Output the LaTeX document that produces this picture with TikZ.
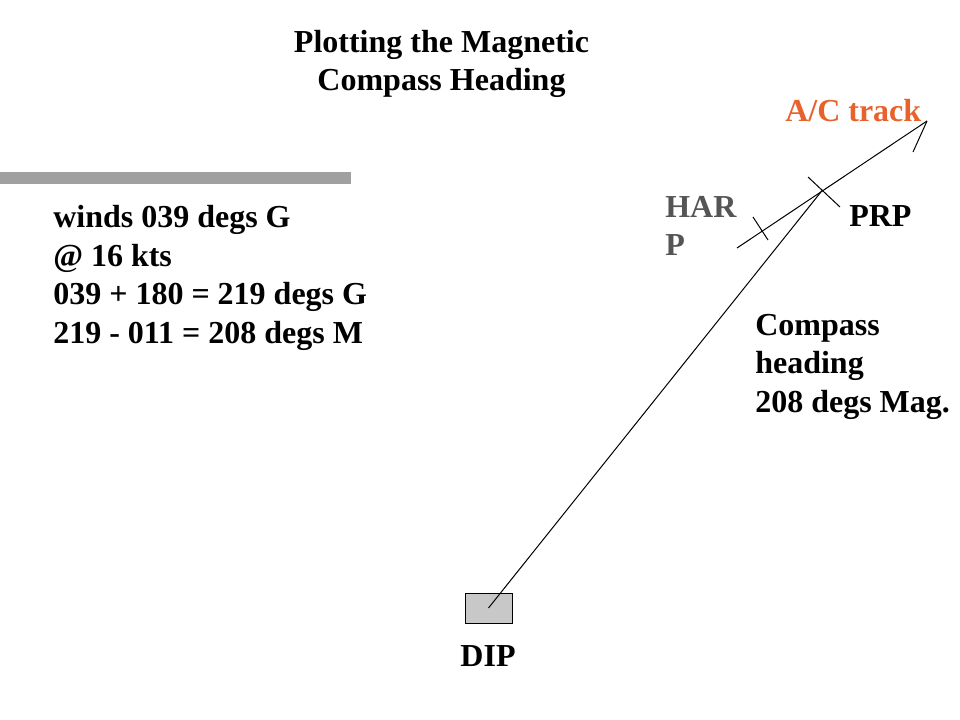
\documentclass[tikz,border=0pt]{standalone}
\usepackage{fontspec}
\setmainfont{Liberation Serif}
\definecolor{trackorange}{RGB}{232,98,44}
\definecolor{harpgray}{RGB}{85,85,85}
\definecolor{bargray}{RGB}{160,160,160}
\definecolor{boxgray}{RGB}{200,200,200}
\begin{document}
\begin{tikzpicture}[x=0.75pt,y=-0.75pt,
  lbl/.style={font=\bfseries\fontsize{24}{28.8}\selectfont, inner sep=0pt, align=left},
  thin line/.style={line width=0.75pt, black}]
\useasboundingbox (0,0) rectangle (960,720);
% title (anchor at baseline of last line)
\node[lbl, align=center, anchor=base] (title) at (441.5,90.5) {Plotting the Magnetic\\Compass Heading};
% bar
\fill[bargray] (0,172) rectangle (351,184);
% left text
\node[lbl, anchor=base west] (winds) at (53,343) {winds 039 degs G\\@ 16 kts\\039 + 180 = 219 degs G\\219 - 011 = 208 degs M};
% DIP box
\node[draw=black, line width=0.75pt, fill=boxgray, minimum width=35.25pt, minimum height=22.5pt, inner sep=0pt] (dip) at (488.5,608) {};
\node[lbl, anchor=base] (diplbl) at (488,666) {DIP};
% coordinates
\coordinate (prp) at (822.5,190);
\coordinate (trackstart) at (737,248);
\coordinate (tracktip) at (927,121);
\coordinate (barb) at (913,152);
\coordinate (prpA) at (808,177);
\coordinate (prpB) at (840,207);
\coordinate (harpA) at (753,217);
\coordinate (harpB) at (768,240);
% lines
\draw[thin line] (dip.center) -- (prp);
\draw[thin line] (trackstart) -- (tracktip);
\draw[thin line] (tracktip) -- (barb);
\draw[thin line] (prpA) -- (prpB);
\draw[thin line] (harpA) -- (harpB);
% labels
\node[lbl, anchor=base west, text=trackorange] (track) at (785,122) {A/C track};
\node[lbl, anchor=base west, text=harpgray] (harp) at (665,256) {HAR\\P};
\node[lbl, anchor=base west] (prplbl) at (849,227) {PRP};
\node[lbl, anchor=base west] (compass) at (755,412) {Compass\\heading\\208 degs Mag.};
\end{tikzpicture}
\end{document}
